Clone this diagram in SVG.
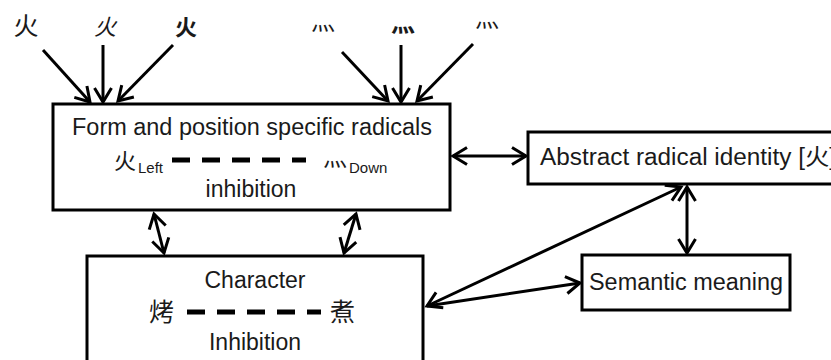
<svg xmlns="http://www.w3.org/2000/svg" width="831" height="360" viewBox="0 0 831 360">
<style>
.box{fill:#fff;stroke:#000;stroke-width:3}
.t{font-family:"Liberation Sans","Noto Sans CJK SC",sans-serif;font-size:23px;fill:#1a1a1a}
.c{font-family:"Noto Sans CJK SC",sans-serif;fill:#1a1a1a}
.sub{font-family:"Liberation Sans",sans-serif;font-size:15px;fill:#1a1a1a}
.ln{stroke:#000;stroke-width:3;fill:none}
.dash{stroke:#000;stroke-width:5;stroke-dasharray:18 12;fill:none}
</style>
<defs>
<marker id="ah" markerUnits="userSpaceOnUse" markerWidth="24" markerHeight="24" viewBox="-16 -12 20 24" refX="0" refY="0" orient="auto-start-reverse">
<path d="M-14,-8.5 L0,0 L-14,8.5" fill="none" stroke="#000" stroke-width="3"/>
</marker>
</defs>
<g id="inputs">
<text class="c" x="26" y="35" font-size="25" text-anchor="middle">火</text>
<text class="c" x="105" y="35" font-size="22" text-anchor="middle" font-style="italic">火</text>
<text class="c" x="186" y="35" font-size="22" text-anchor="middle" font-weight="bold">火</text>
<text class="c" x="323" y="30" font-size="24" text-anchor="middle">灬</text>
<text class="c" x="403" y="32" font-size="24" text-anchor="middle" font-weight="bold">灬</text>
<text class="c" x="487" y="27" font-size="24" text-anchor="middle">灬</text>
</g>
<g id="connectors">
<line class="ln" x1="43" y1="50" x2="90" y2="102" marker-end="url(#ah)"/>
<line class="ln" x1="103" y1="45" x2="103" y2="102" marker-end="url(#ah)"/>
<line class="ln" x1="173" y1="45" x2="118" y2="101" marker-end="url(#ah)"/>
<line class="ln" x1="342" y1="52" x2="388" y2="101" marker-end="url(#ah)"/>
<line class="ln" x1="401" y1="45" x2="401" y2="102" marker-end="url(#ah)"/>
<line class="ln" x1="473" y1="44" x2="417" y2="101" marker-end="url(#ah)"/>
<line class="ln" x1="453" y1="156" x2="526" y2="156" marker-start="url(#ah)" marker-end="url(#ah)"/>
<line class="ln" x1="154" y1="214" x2="164" y2="253" marker-start="url(#ah)" marker-end="url(#ah)"/>
<line class="ln" x1="356" y1="214" x2="344" y2="253" marker-start="url(#ah)" marker-end="url(#ah)"/>
<line class="ln" x1="687" y1="187" x2="687" y2="253" marker-start="url(#ah)" marker-end="url(#ah)"/>
<line class="ln" x1="681" y1="187" x2="427" y2="306" marker-start="url(#ah)" marker-end="url(#ah)"/>
<line class="ln" x1="427" y1="306" x2="580" y2="283" marker-end="url(#ah)"/>
</g>
<g id="form-radicals">
<rect class="box" x="53" y="104" width="397" height="106"/>
<text class="t" x="72" y="135" textLength="360" lengthAdjust="spacingAndGlyphs">Form and position specific radicals</text>
<text class="c" x="114" y="169" font-size="22">火</text>
<text class="sub" x="138" y="173">Left</text>
<line class="dash" x1="172" y1="160" x2="306" y2="160"/>
<text class="c" x="335" y="166" font-size="24" text-anchor="middle">灬</text>
<text class="sub" x="349" y="173">Down</text>
<text class="t" x="251" y="197" text-anchor="middle">inhibition</text>
</g>
<g id="abstract-identity">
<rect class="box" x="528" y="132" width="320" height="52"/>
<text class="t" x="540" y="165" textLength="296" lengthAdjust="spacingAndGlyphs">Abstract radical identity [火]</text>
</g>
<g id="character">
<rect class="box" x="87" y="256" width="336" height="120"/>
<text class="t" x="255" y="288" text-anchor="middle">Character</text>
<text class="c" x="149" y="321" font-size="25">烤</text>
<line class="dash" x1="187" y1="312" x2="321" y2="312"/>
<text class="c" x="330" y="321" font-size="25">煮</text>
<text class="t" x="255" y="350" text-anchor="middle">Inhibition</text>
</g>
<g id="semantic-meaning">
<rect class="box" x="582" y="255" width="208" height="55"/>
<text class="t" x="589" y="290" textLength="194" lengthAdjust="spacingAndGlyphs">Semantic meaning</text>
</g>
</svg>
